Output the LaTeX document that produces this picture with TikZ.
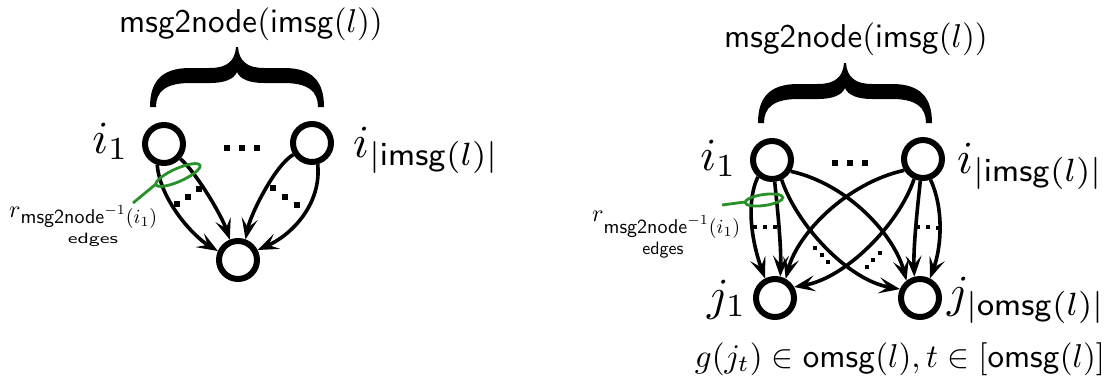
\documentclass[tikz,border=0pt]{standalone}
\usepackage{graphicx}
\usetikzlibrary{arrows.meta}
\definecolor{grn}{RGB}{40,145,40}
\newcommand\bigtxt[2]{\scalebox{#1}{#2}}
\tikzset{
  vtx/.style={circle, draw, line width=6pt, minimum size=38pt, inner sep=0pt},
  edg/.style={line width=3.6pt, -{Stealth[length=21pt,width=16pt,inset=9pt]}},
  lbl/.style={inner sep=0pt},
  rlbl/.style={inner sep=0pt},
  sel/.style={draw=grn, line width=2.8pt},
  pics/curlybrace/.style={code={
    \fill (-87,60) .. controls (-87,35) and (-76,21) .. (-47,21) -- (-27,21)
      .. controls (-10,21) and (-2,14) .. (-1,0) -- (1,0)
      .. controls (2,14) and (10,21) .. (27,21) -- (47,21)
      .. controls (76,21) and (87,35) .. (87,60) -- (81,60)
      .. controls (81,45) and (72,36) .. (47,36) -- (27,36)
      .. controls (12,36) and (3,32) .. (0,25)
      .. controls (-3,32) and (-12,36) .. (-27,36) -- (-47,36)
      .. controls (-72,36) and (-81,45) .. (-81,60) -- cycle;
  }}
}
\begin{document}
\begin{tikzpicture}[x=1pt,y=-1pt]
\useasboundingbox (0,0) rectangle (1114,383);

% ---------------- left panel ----------------
\node[lbl, anchor=base] (lt) at (251,32) {\bigtxt{3.3}{$\mathsf{msg2node}(\mathsf{imsg}(l))$}};
\pic at (237,47) {curlybrace};
\node[vtx] (li1) at (164,144) {};
\node[vtx] (liL) at (312,143) {};
\node[vtx] (lb)  at (238,260) {};
\node[lbl, anchor=base east] (li1t) at (129,153) {\bigtxt{4.6}{$i_1$}};
\node[lbl, anchor=base west] (liLt) at (353,157) {\bigtxt{4.6}{$i_{|\mathsf{imsg}(l)|}$}};
\foreach \x in {227,242,257} \fill (\x-3.2,145) rectangle +(6.4,5.5);

\draw[edg] (li1.252) .. controls +(3,35) and +(-25,-15) .. (lb.156);
\draw[edg] (li1.-42) .. controls +(16,14) and +(-8,-24) .. (lb.112);
\draw[edg] (liL.212) .. controls +(-18,10) and +(5,-25) .. (lb.70);
\draw[edg] (liL.285) .. controls +(4,40) and +(34,-15) .. (lb.27);
\foreach \p in {(177,204),(188,197),(199,189),(273,188),(285,197),(297,205)}
  \fill \p ++(-2.6,-2.6) rectangle ++(5.2,5.2);

\draw[sel, rotate around={24:(178,175)}] (178,175) ellipse [x radius=24, y radius=6.5];
\coordinate (lg) at (156,184);
\coordinate (lgs) at (133,203);
\draw[sel] (lgs) -- (lg);
\node[rlbl, anchor=base west] (lr) at (9,217)
  {\bigtxt{2.4}{$r$}\raisebox{-6pt}{\bigtxt{2.0}{$\mathsf{msg2node}^{-1}(i_1)$}}};
\node[rlbl, anchor=base] (le) at (93,243) {\scalebox{2.2}[1.5]{\sffamily edges}};

% ---------------- right panel ----------------
\node[lbl, anchor=base] (rt) at (856,47) {\bigtxt{3.3}{$\mathsf{msg2node}(\mathsf{imsg}(l))$}};
\pic at (845,63) {curlybrace};
\node[vtx] (ri1) at (772,160) {};
\node[vtx] (riL) at (923,159) {};
\node[vtx] (rj1) at (775,298) {};
\node[vtx] (rjL) at (920,298) {};
\node[lbl, anchor=base east] (ri1t) at (737,170) {\bigtxt{4.6}{$i_1$}};
\node[lbl, anchor=base west] (riLt) at (957,173) {\bigtxt{4.6}{$i_{|\mathsf{imsg}(l)|}$}};
\node[lbl, anchor=base east] (rj1t) at (747,310) {\bigtxt{4.6}{$j_1$}};
\node[lbl, anchor=base west] (rjLt) at (947,307) {\bigtxt{4.6}{$j_{|\mathsf{omsg}(l)|}$}};
\foreach \x in {835,850,865} \fill (\x-3.2,160) rectangle +(6.4,5.5);

\draw[edg] (ri1.230) .. controls +(-13,28) and +(-12,-33) .. (rj1.117);
\draw[edg] (ri1.277) .. controls +(3,28) and +(1,-30) .. (rj1.76);
\draw[edg] (ri1.329) .. controls +(58,13) and +(-12,-45) .. (rjL.128);
\draw[edg] (ri1.296) .. controls +(15,45) and +(-52,-9) .. (rjL.156);
\draw[edg] (riL.211) .. controls +(-58,13) and +(12,-45) .. (rj1.61);
\draw[edg] (riL.246) .. controls +(-15,45) and +(52,-9) .. (rj1.30);
\draw[edg] (riL.263) .. controls +(-3,28) and +(-1,-30) .. (rjL.105);
\draw[edg] (riL.290) .. controls +(13,28) and +(12,-33) .. (rjL.63);
\foreach \p in {(755,227),(765,227),(775,227),(867,267),(873,260),(880,253),
                (815,248),(822,255),(828,262),(918,227),(928,227),(938,228)}
  \fill \p ++(-1.9,-1.9) rectangle ++(3.8,3.8);

\draw[sel, rotate around={8:(764,200)}] (764,200) ellipse [x radius=19, y radius=5.5];
\coordinate (rg) at (745,202);
\coordinate (rgs) at (722,205);
\draw[sel] (rgs) -- (rg);
\node[rlbl, anchor=base west] (rr) at (592,221)
  {\bigtxt{2.4}{$r$}\raisebox{-12pt}{\bigtxt{2.0}{$\mathsf{msg2node}^{-1}(i_1)$}}};
\node[rlbl, anchor=base] (re) at (663,254) {\bigtxt{1.8}{\sffamily edges}};

\node[lbl, anchor=base] (formula) at (900,367)
  {\bigtxt{3.3}{$g(j_t) \in \mathsf{omsg}(l), t \in [\mathsf{omsg}(l)]$}};
\end{tikzpicture}
\end{document}
